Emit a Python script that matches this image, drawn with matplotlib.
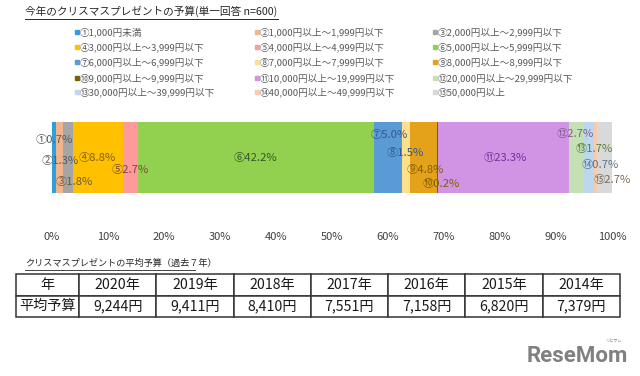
import matplotlib
matplotlib.use("Agg")
import matplotlib.pyplot as plt
from matplotlib.lines import Line2D

plt.rcParams['font.family'] = ['Noto Sans CJK JP', 'DejaVu Sans']

# 予算カテゴリ（単一回答 n=600）
marks = ['①', '②', '③', '④', '⑤', '⑥', '⑦', '⑧', '⑨', '⑩', '⑪', '⑫', '⑬', '⑭', '⑮']
categories = ['1,000円未満', '1,000円以上～1,999円以下', '2,000円以上～2,999円以下',
              '3,000円以上～3,999円以下', '4,000円以上～4,999円以下', '5,000円以上～5,999円以下',
              '6,000円以上～6,999円以下', '7,000円以上～7,999円以下', '8,000円以上～8,999円以下',
              '9,000円以上～9,999円以下', '10,000円以上～19,999円以下', '20,000円以上～29,999円以下',
              '30,000円以上～39,999円以下', '40,000円以上～49,999円以下', '50,000円以上']
shares = [0.7, 1.3, 1.8, 8.8, 2.7, 42.2, 5.0, 1.5, 4.8, 0.2, 23.3, 2.7, 1.7, 0.7, 2.7]

# 平均予算（過去7年）
years = ['2020年', '2019年', '2018年', '2017年', '2016年', '2015年', '2014年']
avg_budget = ['9,244円', '9,411円', '8,410円', '7,551円', '7,158円', '6,820円', '7,379円']

colors = ['#2e9fd8', '#f2b48c', '#a5a5a5', '#ffc000', '#ff9a9a', '#92d050', '#5b9bd5',
          '#ffe08a', '#e3a21a', '#7f6000', '#d193e3', '#c5e0b4', '#bdd7ee', '#f8cbad', '#d9d9d9']
label_colors = ['#595959', '#595959', '#6b5a3a', '#7f6000', '#7a4a3a', '#375623', '#2f5597',
                '#2f5597', '#7f6000', '#7f6000', '#7030a0', '#7f5f8f', '#548235', '#5f6f8f', '#7a6a5a']
# ラベルの位置調整（x: %、y: 軸に対する割合）
label_dx = [0.1, 0.15, 1.1, -0.1, 0.0, 0.0, 0.3, -0.1, 0.2, 0.7, 0.35, -0.25, 0.95, 0.85, 1.3]
label_y = [0.75, 0.45, 0.15, 0.5, 0.33, 0.5, 0.82, 0.56, 0.33, 0.12, 0.5, 0.83, 0.62, 0.39, 0.18]

W, H = 640, 376


def fx(x):
    return x / W


def fy(y):
    return 1 - y / H


fig = plt.figure(figsize=(6.4, 3.76), dpi=100)

# タイトル（下線付き）
fig.text(fx(25), fy(11), '今年のクリスマスプレゼントの予算(単一回答 n=600)',
         fontsize=7.7, color='#262626', va='center', ha='left')
fig.add_artist(Line2D([fx(25), fx(278)], [fy(19), fy(19)], color='#262626', lw=0.7))

# 凡例
leg_x = [77, 257, 435]
leg_y = [32, 47, 62, 78, 92]
for i, (m, c) in enumerate(zip(marks, categories)):
    col = i % 3
    row = i // 3
    fig.add_artist(Line2D([fx(leg_x[col])], [fy(leg_y[row])], marker='s', markersize=2.6,
                          color=colors[i], lw=0))
    fig.text(fx(leg_x[col] + 3), fy(leg_y[row]), m + c, fontsize=6.9,
             color='#595959', va='center', ha='left')

# 積み上げ横棒
ax = fig.add_axes([fx(52), fy(193), 560 / W, 71 / H])
left = 0
for i, v in enumerate(shares):
    ax.barh(0, v, left=left, height=1, color=colors[i], edgecolor='none')
    ax.text(left + v / 2 + label_dx[i], label_y[i], f'{marks[i]}{v:.1f}%',
            transform=ax.get_xaxis_transform(), ha='center', va='center',
            fontsize=8.1, color=label_colors[i])
    left += v
ax.set_xlim(0, 100)
ax.set_ylim(-0.5, 0.5)
ax.set_yticks([])
ax.set_xticks(range(0, 101, 10))
ax.set_xticklabels([f'{x}%' for x in range(0, 101, 10)])
ax.tick_params(axis='x', length=0, pad=28, labelsize=8, labelcolor='#404040')
for s in ax.spines.values():
    s.set_visible(False)

# 平均予算の表
fig.text(fx(25), fy(263), 'クリスマスプレゼントの平均予算（過去７年）',
         fontsize=6.6, color='#262626', va='center', ha='left')
fig.add_artist(Line2D([fx(25), fx(195)], [fy(270), fy(270)], color='#262626', lw=0.6))

tax = fig.add_axes([fx(16), fy(317), 604 / W, 43 / H])
tax.axis('off')
cells = [['年'] + years, ['平均予算'] + avg_budget]
tbl = tax.table(cellText=cells, bbox=[0, 0, 1, 1], cellLoc='center',
                colWidths=[63] + [77.3] * 7)
tbl.auto_set_font_size(False)
for (r, c), cell in tbl.get_celld().items():
    cell.set_edgecolor('#333333')
    cell.set_linewidth(1.1)
    cell.get_text().set_fontsize(10.2)
    cell.get_text().set_color('#1a1a1a')

# ロゴ
fig.text(fx(628), fy(356), 'ReseMom', fontsize=16, fontweight='bold', color='#808080',
         ha='right', va='center', family=['Roboto', 'DejaVu Sans'])
fig.text(fx(622), fy(341), 'リセマム', fontsize=3, color='#8a8a8a', ha='right', va='center')

fig.savefig('out.png', dpi=100)
